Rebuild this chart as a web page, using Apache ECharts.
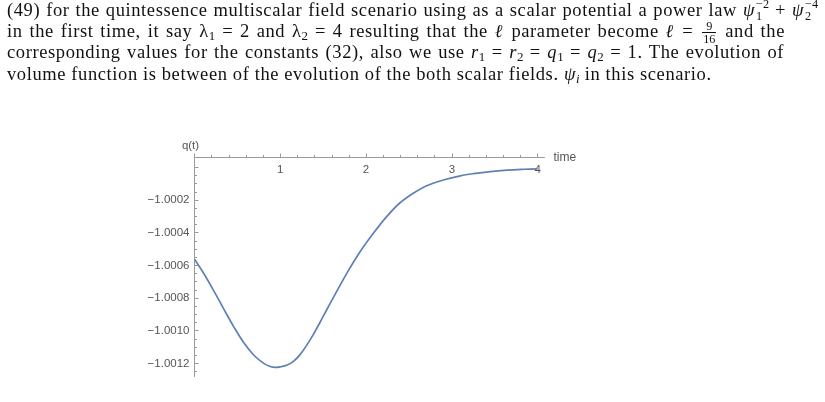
<!DOCTYPE html>
<html>
<head>
<meta charset="utf-8">
<script src="https://cdn.jsdelivr.net/npm/echarts@6/dist/echarts.min.js"></script>
<style>
  html, body { margin:0; padding:0; background:#fff; }
  #chart { position:absolute; left:0; top:0; width:825px; height:402px; }
  .para { position:absolute; left:0; top:0; z-index:2; font-family:"Liberation Serif","DejaVu Serif",serif; font-size:18.5px; letter-spacing:0.6px; color:#111; }
  .ln { position:absolute; left:7px; height:22px; line-height:21.2px; white-space:nowrap; }
  .j { text-align:justify; text-align-last:justify; white-space:normal; }
  .m { font-style:italic; }
  .ss { display:inline-flex; flex-direction:column; font-size:0.66em; line-height:0; vertical-align:baseline; margin-left:1px; letter-spacing:0; }
  .ss > span { position:relative; height:0; }
  .ss .u { top:-0.62em; }
  .ss .d { top:0.34em; }
  .fr { position:relative; display:inline-flex; flex-direction:column; align-items:center; font-size:0.66em; line-height:0; vertical-align:baseline; margin:0 2px; letter-spacing:0; }
  .fr > span { position:relative; height:0; padding:0 1px; }
  .fr .u { top:-0.56em; }
  .fr .d { top:0.5em; }
  .fr .bar { position:absolute; left:0; right:0; top:-0.06em; height:0; border-top:0.9px solid #111; }
  sub { font-size:0.7em; vertical-align:-0.25em; line-height:0; letter-spacing:0; }
</style>
</head>
<body>
<div id="chart"></div>
<div class="para">
  <div class="ln j" style="top:0px;width:811px;">(49) for the quintessence multiscalar field scenario using as a scalar potential a power law <span class="m">ψ</span><span class="ss"><span class="u">−2</span><span class="d">1</span></span> + <span class="m">ψ</span><span class="ss"><span class="u">−4</span><span class="d">2</span></span></div>
  <div class="ln j" style="top:21.2px;width:778px;">in the first time, it say λ<sub>1</sub> = 2 and λ<sub>2</sub> = 4 resulting that the <span class="m">ℓ</span> parameter become <span class="m">ℓ</span> = <span class="fr"><span class="u">9</span><span class="d">16</span><i class="bar"></i></span> and the</div>
  <div class="ln j" style="top:42.4px;width:777px;">corresponding values for the constants (32), also we use <span class="m">r</span><sub>1</sub> = <span class="m">r</span><sub>2</sub> = <span class="m">q</span><sub>1</sub> = <span class="m">q</span><sub>2</sub> = 1. The evolution of</div>
  <div class="ln" style="top:63.6px;">volume function is between of the evolution of the both scalar fields. <span class="m">ψ<sub>i</sub></span> in this scenario.</div>
</div>
<script>
// ---- data ----
const timeValues = [0, 0.108, 0.225, 0.342, 0.458, 0.575, 0.692, 0.808, 0.875, 0.944, 1.0, 1.08, 1.157, 1.235, 1.309, 1.386, 1.464, 1.54, 1.62, 1.775, 1.93, 2.085, 2.24, 2.39, 2.55, 2.70, 2.90, 3.10, 3.25, 3.45, 3.645, 3.85, 4.0];
const qValues = [-1.000563, -1.000650, -1.000756, -1.000868, -1.000976, -1.001074, -1.001150, -1.001200, -1.001217, -1.001224, -1.001221, -1.001210, -1.001186, -1.001143, -1.001088, -1.001022, -1.000948, -1.000873, -1.000796, -1.000649, -1.000517, -1.000404, -1.000302, -1.000220, -1.000159, -1.000114, -1.000078, -1.000052, -1.000039, -1.000026, -1.0000175, -1.000012, -1.000009];
const xTickLabels = [1, 2, 3, 4];
const xMajorTicks = [0, 1, 2, 3, 4];
const yTickLabels = [-1.0002, -1.0004, -1.0006, -1.0008, -1.0010, -1.0012];
const yMajorTicks = [-1.0000, -1.0002, -1.0004, -1.0006, -1.0008, -1.0010, -1.0012];
const xAxisName = 'time';
const yAxisName = 'q(t)';

// minor tick positions
const xMinorTicks = [];
for (let i = 1; i < 20; i++) if (i % 5 !== 0) xMinorTicks.push(+(i * 0.2).toFixed(1));
const yMinorTicks = [];
for (let i = 1; i <= 25; i++) if (i % 4 !== 0) yMinorTicks.push(+(-1 - i * 0.00005).toFixed(6));

const seriesData = timeValues.map((t, i) => [t, qValues[i]]);

const axisColor = '#9a9a9a';
const labelColor = '#555555';
const xMin = 0, xMax = 4.08, yMin = -1.00128, yMax = -0.99994;

const chart = echarts.init(document.getElementById('chart'), null, { renderer: 'canvas' });
chart.setOption({
  animation: false,
  backgroundColor: '#ffffff',
  grid: { left: 194.5, top: 157.5, width: 350, height: 219, containLabel: false },
  xAxis: [
    {
      type: 'value', position: 'top', min: xMin, max: xMax,
      name: xAxisName, nameLocation: 'end', nameGap: 9,
      nameTextStyle: { color: labelColor, fontFamily: 'Liberation Sans', fontSize: 12, verticalAlign: 'middle' },
      axisLine: { show: true, onZero: false, lineStyle: { color: axisColor, width: 1 } },
      axisTick: { show: true, inside: false, length: 4, customValues: xMajorTicks, lineStyle: { color: axisColor } },
      axisLabel: { show: true, inside: true, margin: 6, customValues: xTickLabels, color: labelColor, fontFamily: 'Liberation Sans', fontSize: 11.5 },
      splitLine: { show: false }
    },
    {
      type: 'value', position: 'top', min: xMin, max: xMax,
      axisLine: { show: false, onZero: false },
      axisTick: { show: true, inside: false, length: 2.5, customValues: xMinorTicks, lineStyle: { color: axisColor } },
      axisLabel: { show: false },
      splitLine: { show: false }
    }
  ],
  yAxis: [
    {
      type: 'value', position: 'left', min: yMin, max: yMax,
      name: yAxisName, nameLocation: 'end', nameGap: 6,
      nameTextStyle: { color: labelColor, fontFamily: 'Liberation Sans', fontSize: 11.5, align: 'center', padding: [0, 8, 0, 0] },
      axisLine: { show: true, onZero: false, lineStyle: { color: axisColor, width: 1 } },
      axisTick: { show: true, inside: true, length: 4, customValues: yMajorTicks, lineStyle: { color: axisColor } },
      axisLabel: { show: true, margin: 5, customValues: yTickLabels, color: labelColor, fontFamily: 'Liberation Sans', fontSize: 11.5,
        formatter: v => '\u2212' + Math.abs(v).toFixed(4) },
      splitLine: { show: false }
    },
    {
      type: 'value', position: 'left', min: yMin, max: yMax,
      axisLine: { show: false, onZero: false },
      axisTick: { show: true, inside: true, length: 2.5, customValues: yMinorTicks, lineStyle: { color: axisColor } },
      axisLabel: { show: false },
      splitLine: { show: false }
    }
  ],
  series: [{
    type: 'line', xAxisIndex: 0, yAxisIndex: 0,
    data: seriesData, showSymbol: false, smooth: 0.35,
    lineStyle: { color: '#5E81B5', width: 1.7 }
  }]
});
</script>
</body>
</html>
